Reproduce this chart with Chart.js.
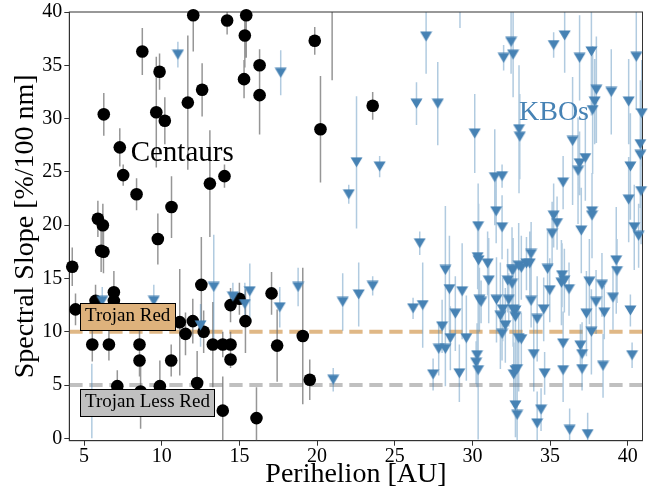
<!DOCTYPE html>
<html><head><meta charset="utf-8">
<script src="https://cdn.jsdelivr.net/npm/chart.js@4.4.1/dist/chart.umd.min.js"></script>
<style>html,body{margin:0;padding:0;background:#fff;}canvas{display:block;}</style>
</head><body>
<canvas id="c" width="654" height="493"></canvas>
<script>
// ---- data ----
const centaurX = [
12.03,8.75,9.86,12.6,6.27,9.65,10.2,11.68,7.3,7.52,
8.38,14.21,15.44,15.35,16.3,15.3,16.3,19.85,20.22,13.1,
14.04,23.58,20.97,10.63,5.89,6.21,6.1,6.25,9.75,4.24,
4.45,6.92,5.74,6.92,5.53,6.6,8.57,8.57,10.61,11.16,
11.53,12.0,12.55,12.7,13.29,13.93,14.43,14.43,14.43,15.0,
15.39,17.07,17.43,19.08,19.53,12.28,13.93,16.1,7.14,9.88,8.64];
const centaurY = [
39.7,36.3,34.4,32.7,30.4,30.6,29.8,31.5,27.3,24.7,
22.9,39.2,39.7,37.8,35.0,33.7,32.2,37.3,29.0,23.9,
24.6,31.2,42.0,21.7,20.6,20.0,17.6,17.5,18.7,16.1,
12.1,13.7,12.9,12.9,8.8,8.8,8.8,7.3,7.3,10.9,
9.8,11.0,14.4,10.0,8.8,8.8,8.8,7.4,12.5,13.1,
11.0,13.6,8.7,9.6,5.5,5.2,2.6,1.9,4.9,4.9,4.4];
const centaurErr = [
3.4,2.2,1.7,2.5,2.0,5.2,2.2,6.3,1.8,1.0,
1.5,1.3,4.0,3.0,1.5,1.8,3.7,1.3,5.0,5.0,
1.1,1.3,8.4,2.9,1.7,2.0,2.0,2.0,2.4,1.8,
1.5,2.0,1.5,1.5,1.6,1.5,2.0,1.5,1.5,5.0,
2.0,2.1,4.5,2.0,4.0,1.2,1.2,0.8,1.6,1.5,
3.0,2.0,3.4,6.4,1.9,3.0,3.2,2.9,1.5,2.4,3.5];

const kboX = [
11.04,17.66,22.54,24.03,22.04,21.65,22.68,23.58,21.04,13.35,
12.5,14.58,15.35,15.67,17.6,18.78,6.17,9.49,5.5,27.02,
29.2,26.4,27.77,30.15,32.49,32.62,32.01,31.44,31.91,31.53,
33.0,33.05,26.61,28.26,28.52,29.34,26.18,26.8,28.9,28.05,
28.58,29.61,27.83,28.26,27.47,29.16,30.37,31.91,30.34,30.4,
30.98,31.05,30.45,30.56,31.55,31.95,31.8,32.27,32.34,32.12,
32.62,32.77,32.77,32.98,31.91,30.3,30.24,30.37,32.66,32.77,
32.77,32.88,32.98,35.94,35.23,36.9,37.66,40.55,37.98,38.94,
37.87,37.74,40.06,40.9,36.45,37.27,36.9,36.8,35.84,40.17,
40.81,40.81,40.86,40.06,35.23,37.7,37.7,35.45,37.01,35.13,
40.42,40.7,33.78,33.48,33.69,32.55,33.15,34.84,35.77,35.73,
35.92,36.22,37.53,38.34,39.26,39.31,34.98,32.55,33.78,32.62,
34.59,34.17,37.96,37.34,38.49,39.05,40.17,37.66,33.15,35.84,
36.95,37.06,33.95,40.28,32.88,34.65,35.84,37.06,38.41,34.42,
34.17,36.26,37.42];
const kboY = [
36.0,34.3,25.9,25.5,22.9,12.8,13.5,14.3,5.5,14.2,
10.6,13.3,12.6,13.8,12.3,14.2,12.9,12.9,3.5,37.7,
41.5,31.4,31.4,28.6,37.2,36.0,35.7,24.5,24.6,21.3,
29.0,28.3,18.3,15.8,14.0,13.8,12.2,12.5,11.7,10.5,
9.4,9.4,8.4,8.4,6.0,6.1,19.9,19.8,17.0,16.7,
16.4,14.8,13.0,12.8,13.0,12.1,11.5,14.8,13.0,10.6,
15.8,12.0,11.4,16.2,9.8,7.8,7.1,6.4,6.0,6.4,
3.1,2.2,9.4,37.8,36.9,35.7,36.3,35.8,32.7,32.5,
31.6,30.8,31.6,30.5,27.9,26.3,25.8,25.1,24.0,25.5,
27.6,26.6,23.2,22.4,20.9,21.3,20.9,20.2,19.5,19.2,
19.8,19.0,17.3,16.4,16.4,15.8,16.0,15.9,15.3,14.6,
14.8,14.0,14.7,14.4,16.7,15.7,13.9,14.5,12.9,12.1,
12.1,11.2,12.8,11.7,11.8,13.2,12.0,10.0,9.3,8.9,
8.7,7.9,7.9,7.8,6.5,6.1,6.4,6.5,6.8,2.7,
1.4,0.8,0.4];
const kboErr = [
1.2,2.1,6.2,1.0,0.9,2.7,3.0,0.9,1.1,4.9,
2.0,1.3,2.0,2.6,1.9,1.8,1.3,1.5,3.5,3.5,
3.0,2.0,3.9,3.7,3.0,4.0,1.2,4.5,1.1,3.0,
6.0,4.0,1.1,6.0,5.0,4.5,1.0,4.0,3.5,2.5,
3.0,4.0,2.5,3.5,1.5,2.7,4.0,3.0,3.0,5.3,
3.0,4.0,3.0,2.0,4.0,3.0,5.0,3.0,2.5,3.5,
3.0,4.0,3.0,4.0,2.5,3.0,2.0,6.5,3.0,4.0,
3.0,2.5,5.0,3.5,1.2,4.0,6.0,5.0,5.0,4.0,
4.0,6.0,4.0,5.0,6.0,4.0,3.0,5.0,2.5,5.0,
6.0,4.0,5.0,4.0,3.0,3.5,4.0,2.5,4.0,3.0,
4.0,3.0,3.0,2.5,3.0,4.0,3.0,3.5,3.0,4.0,
3.0,2.5,4.0,3.0,5.0,3.0,3.0,3.0,2.5,3.5,
3.0,4.0,3.0,4.0,2.5,3.0,1.5,4.0,2.5,3.0,
2.0,3.0,3.5,1.2,3.0,2.0,3.0,2.0,3.0,2.0,
3.0,2.0,2.0];

const xTicks = [5,10,15,20,25,30,35,40];
const yTicks = [0,5,10,15,20,25,30,35,40];
const trojanRedLevel = 10;
const trojanLessRedLevel = 5;
// text anchors in data coordinates [x, baseline y]
const centaurLabelPos = [8.0, 26.0];
const kboLabelPos = [33.0, 29.86];
const trojanRedLabelPos = [5.06, 10.98];
const trojanLessRedLabelPos = [5.06, 2.95];

// ---- styles ----
const FONT = "'Liberation Serif', 'DejaVu Serif', serif";
const KBO_COLOR = '#4682b4';
const TAN = 'rgb(224,184,134)';
const TAN_BOX = 'rgb(222,178,124)';
const GRAY_LINE = 'rgb(192,192,192)';
const GRAY_BOX = 'rgb(192,192,192)';

// downward triangle marker
const tri = document.createElement('canvas');
tri.width = 13; tri.height = 11;
(function(){const t = tri.getContext('2d'); t.fillStyle = KBO_COLOR; t.beginPath();
 t.moveTo(0.5,0.5); t.lineTo(12.5,0.5); t.lineTo(6.5,10.5); t.closePath(); t.fill();})();

const centaurPts = centaurX.map((x,i)=>({x, y: centaurY[i]}));
const kboPts = kboX.map((x,i)=>({x, y: kboY[i]}));

const decor = {
  id: 'decor',
  beforeDatasetsDraw(chart) {
    const {ctx, chartArea: a, scales: {x, y}} = chart;
    ctx.save();
    ctx.beginPath(); ctx.rect(a.left, a.top, a.right - a.left, a.bottom - a.top); ctx.clip();
    function hline(v, col) {
      const py = y.getPixelForValue(v);
      ctx.save(); ctx.strokeStyle = col; ctx.lineWidth = 4; ctx.setLineDash([13.3, 6.7]);
      ctx.beginPath(); ctx.moveTo(a.left, py); ctx.lineTo(a.right, py); ctx.stroke(); ctx.restore();
    }
    hline(trojanRedLevel, TAN);
    hline(trojanLessRedLevel, GRAY_LINE);
    function bars(xs, ys, es, col) {
      ctx.strokeStyle = col; ctx.lineWidth = 1.5;
      ctx.beginPath();
      xs.forEach((xv, i) => {
        const px = x.getPixelForValue(xv);
        ctx.moveTo(px, y.getPixelForValue(ys[i] + es[i]));
        ctx.lineTo(px, y.getPixelForValue(ys[i] - es[i]));
      });
      ctx.stroke();
    }
    bars(centaurX, centaurY, centaurErr, 'rgba(105,105,105,0.7)');
    bars(kboX, kboY, kboErr, 'rgba(70,130,180,0.42)');
    ctx.restore();
    ctx.save(); ctx.strokeStyle = '#333'; ctx.lineWidth = 1;
    ctx.strokeRect(a.left, a.top, a.right - a.left, a.bottom - a.top);
    ctx.restore();
  },
  afterDatasetsDraw(chart) {
    const {ctx, scales: {x, y}} = chart;
    ctx.save();
    ctx.textBaseline = 'alphabetic'; ctx.textAlign = 'left';
    ctx.font = "29px " + FONT;
    ctx.fillStyle = '#000';
    ctx.fillText('Centaurs', x.getPixelForValue(centaurLabelPos[0]), y.getPixelForValue(centaurLabelPos[1]));
    ctx.font = "28px " + FONT;
    ctx.fillStyle = KBO_COLOR;
    ctx.fillText('KBOs', x.getPixelForValue(kboLabelPos[0]), y.getPixelForValue(kboLabelPos[1]));
    function boxLabel(txt, pos, fill) {
      ctx.font = "19px " + FONT;
      const tx = x.getPixelForValue(pos[0]), ty = y.getPixelForValue(pos[1]);
      const w = ctx.measureText(txt).width;
      const l = Math.round(tx - 4.5) + 0.5, t = Math.round(ty - 18) + 0.5;
      const r = Math.round(tx + w + 4.5) + 0.5, b = Math.round(ty + 8.6) + 0.5;
      ctx.fillStyle = fill; ctx.fillRect(l, t, r - l, b - t);
      ctx.strokeStyle = '#000'; ctx.lineWidth = 1; ctx.strokeRect(l, t, r - l, b - t);
      ctx.fillStyle = '#000'; ctx.fillText(txt, tx, ty);
    }
    boxLabel('Trojan Red', trojanRedLabelPos, TAN_BOX);
    boxLabel('Trojan Less Red', trojanLessRedLabelPos, GRAY_BOX);
    ctx.restore();
  }
};

const tickFont = {family: FONT, size: 20, lineHeight: 1};
const titleFont = {family: FONT, size: 28, lineHeight: 1.2};

new Chart(document.getElementById('c'), {
  type: 'scatter',
  data: {
    datasets: [
      {label: 'KBOs', data: kboPts, pointStyle: tri, pointRadius: 6, order: 0,
       clip: {left: 8, top: 6, right: 8, bottom: 8}},
      {label: 'Centaurs', data: centaurPts, pointStyle: 'circle', pointRadius: 6.3,
       backgroundColor: '#000', borderColor: '#000', borderWidth: 0, order: 1,
       clip: {left: 8, top: 6, right: 8, bottom: 8}}
    ]
  },
  options: {
    responsive: false, animation: false,
    layout: {padding: {top: 10, right: 11.5, left: 0, bottom: 0}},
    plugins: {legend: {display: false}, tooltip: {enabled: false}},
    scales: {
      x: {
        type: 'linear', min: 4.05, max: 40.95,
        afterBuildTicks: s => { s.ticks = xTicks.map(v => ({value: v})); },
        afterFit: s => { s.height = 52.3; },
        grid: {display: true, drawOnChartArea: false, drawTicks: true, tickLength: 5, color: '#333'},
        border: {display: true, color: '#333', width: 1},
        ticks: {font: tickFont, color: '#000', padding: 1, maxRotation: 0, autoSkip: false},
        title: {display: true, text: 'Perihelion [AU]', font: titleFont, color: '#000', padding: {top: 0, bottom: 2}}
      },
      y: {
        type: 'linear', min: -0.22, max: 40,
        afterBuildTicks: s => { s.ticks = yTicks.map(v => ({value: v})); },
        afterFit: s => { s.width = 69.3; },
        grid: {display: true, drawOnChartArea: false, drawTicks: true, tickLength: 5, color: '#333'},
        border: {display: true, color: '#333', width: 1},
        ticks: {font: tickFont, color: '#000', padding: 2, autoSkip: false},
        title: {display: true, text: 'Spectral Slope [%/100 nm]', font: titleFont, color: '#000', padding: {top: 9, bottom: 0}}
      }
    }
  },
  plugins: [decor]
});
</script>
</body></html>
